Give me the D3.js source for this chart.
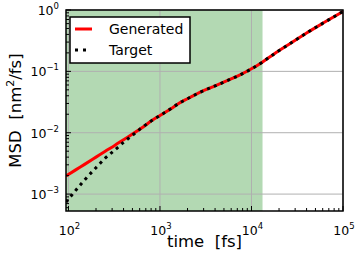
<!DOCTYPE html>
<html>
<head>
<meta charset="utf-8">
<script src="https://cdn.jsdelivr.net/npm/d3@7"></script>
<style>
  body { margin: 0; background: #fff; }
  text { font-family: "DejaVu Sans", sans-serif; fill: #000; }
</style>
</head>
<body>
<svg width="360" height="253"></svg>
<script>
'use strict';

// time in fs
const times = [94, 120, 150, 200, 250, 320, 400, 500, 630, 800, 1000, 1300, 1600, 2000,
  2800, 4000, 5500, 7500, 10000, 13000, 17500, 27000, 40000, 62000, 100000];
// MSD in nm^2/fs
const generated = [0.00197, 0.00248, 0.00305, 0.0040, 0.00494, 0.0062, 0.0077, 0.0095, 0.0119,
  0.0155, 0.0191, 0.0243, 0.0299, 0.0358, 0.0463, 0.0578, 0.0711, 0.0875, 0.110, 0.140,
  0.1905, 0.29, 0.422, 0.624, 0.944];
const target = [0.00074, 0.00115, 0.0017, 0.00269, 0.0038, 0.0052, 0.00695, 0.0091, 0.0120,
  0.0155, 0.0191, 0.0243, 0.0299, 0.0358, 0.0463, 0.0578, 0.0711, 0.0875, 0.110, 0.140,
  0.1905, 0.29, 0.422, 0.624, 0.944];
const shaded = [94, 13200];
const xTicks = [1e2, 1e3, 1e4, 1e5];
const yTicks = [1e-3, 1e-2, 1e-1, 1];
const seriesNames = ['Generated', 'Target'];

const svg = d3.select('svg');
const margin = { left: 66, right: 17, top: 10, bottom: 42 };
const width = +svg.attr('width');
const height = +svg.attr('height');

const x = d3.scaleLog().domain([94, 1e5]).range([margin.left, width - margin.right]);
const y = d3.scaleLog().domain([5.3e-4, 1]).range([height - margin.bottom, margin.top]);

const plot = svg.append('g');

svg.append('clipPath').attr('id', 'clip')
  .append('rect')
    .attr('x', x.range()[0])
    .attr('y', y.range()[1])
    .attr('width', x.range()[1] - x.range()[0])
    .attr('height', y.range()[0] - y.range()[1]);

// shaded span
plot.append('rect')
  .attr('x', x(shaded[0]))
  .attr('y', y.range()[1])
  .attr('width', x(shaded[1]) - x(shaded[0]))
  .attr('height', y.range()[0] - y.range()[1])
  .attr('fill', '#b3d9b3');

// grid
plot.selectAll('.gx').data(xTicks).enter().append('line')
  .attr('x1', d => x(d)).attr('x2', d => x(d))
  .attr('y1', y.range()[0]).attr('y2', y.range()[1])
  .attr('stroke', '#b0b0b0').attr('stroke-width', 1);
plot.selectAll('.gy').data(yTicks).enter().append('line')
  .attr('x1', x.range()[0]).attr('x2', x.range()[1])
  .attr('y1', d => y(d)).attr('y2', d => y(d))
  .attr('stroke', '#b0b0b0').attr('stroke-width', 1);

// lines
const line = d3.line()
  .x((d, i) => x(times[i]))
  .y(d => y(d))
  .curve(d3.curveMonotoneX);

const lines = plot.append('g').attr('clip-path', 'url(#clip)');
lines.append('path')
  .attr('d', line(generated))
  .attr('fill', 'none')
  .attr('stroke', '#ff0000')
  .attr('stroke-width', 3);
lines.append('path')
  .attr('d', line(target))
  .attr('fill', 'none')
  .attr('stroke', '#000')
  .attr('stroke-width', 3)
  .attr('stroke-dasharray', '3,4.3');

// minor ticks
function minors(scale) {
  const [a, b] = scale.domain();
  const out = [];
  for (let e = Math.floor(Math.log10(a)); e <= Math.ceil(Math.log10(b)); e++) {
    for (let m = 2; m <= 9; m++) {
      const v = m * Math.pow(10, e);
      if (v >= a && v <= b) out.push(v);
    }
  }
  return out;
}

const ticks = svg.append('g').attr('stroke', '#000').attr('stroke-width', 1);
const y0 = y.range()[0];
const x0 = x.range()[0];
ticks.selectAll('.xt').data(xTicks).enter().append('line')
  .attr('x1', d => x(d)).attr('x2', d => x(d))
  .attr('y1', y0).attr('y2', y0 - 5);
ticks.selectAll('.xm').data(minors(x)).enter().append('line')
  .attr('x1', d => x(d)).attr('x2', d => x(d))
  .attr('y1', y0).attr('y2', y0 - 3);
ticks.selectAll('.yt').data(yTicks).enter().append('line')
  .attr('y1', d => y(d)).attr('y2', d => y(d))
  .attr('x1', x0).attr('x2', x0 + 5);
ticks.selectAll('.ym').data(minors(y)).enter().append('line')
  .attr('y1', d => y(d)).attr('y2', d => y(d))
  .attr('x1', x0).attr('x2', x0 + 3);

// frame
svg.append('rect')
  .attr('x', x.range()[0])
  .attr('y', y.range()[1])
  .attr('width', x.range()[1] - x.range()[0])
  .attr('height', y.range()[0] - y.range()[1])
  .attr('fill', 'none')
  .attr('stroke', '#000')
  .attr('stroke-width', 1.5);

// tick labels
function powLabel(sel, v) {
  const e = Math.round(Math.log10(v));
  sel.append('tspan').text('10');
  sel.append('tspan')
    .attr('font-size', 8.5)
    .attr('dy', -6)
    .text(String(e).replace('-', '\u2212'));
}

svg.selectAll('.xl').data(xTicks).enter().append('text')
  .attr('x', d => x(d) + 1)
  .attr('y', 235)
  .attr('font-size', 12.5)
  .attr('text-anchor', 'middle')
  .each(function (d) { powLabel(d3.select(this), d); });

svg.selectAll('.yl').data(yTicks).enter().append('text')
  .attr('x', 59)
  .attr('y', d => y(d) + 5)
  .attr('font-size', 12.5)
  .attr('text-anchor', 'end')
  .each(function (d) { powLabel(d3.select(this), d); });

// axis labels
svg.append('text')
  .attr('x', (x.range()[0] + x.range()[1]) / 2)
  .attr('y', 247)
  .attr('font-size', 16.5)
  .attr('text-anchor', 'middle')
  .attr('xml:space', 'preserve')
  .text('time  [fs]');

const yl = svg.append('text')
  .attr('transform', `translate(21,${(y.range()[0] + y.range()[1]) / 2}) rotate(-90)`)
  .attr('font-size', 16.5)
  .attr('text-anchor', 'middle')
  .attr('xml:space', 'preserve');
yl.append('tspan').text('MSD  [nm');
yl.append('tspan').attr('font-size', 11).attr('dy', -7).text('2');
yl.append('tspan').attr('dy', 7).text('/fs]');

// legend
const legend = svg.append('g');
legend.append('rect')
  .attr('x', 70).attr('y', 17)
  .attr('width', 120).attr('height', 46)
  .attr('fill', '#fff')
  .attr('stroke', '#000')
  .attr('stroke-width', 1.5);
const rows = [
  { name: seriesNames[0], color: '#ff0000', dash: null, cy: 29 },
  { name: seriesNames[1], color: '#000', dash: '3,5', cy: 50 }
];
rows.forEach(r => {
  legend.append('line')
    .attr('x1', 75).attr('x2', r.dash ? 89 : 92)
    .attr('y1', r.cy).attr('y2', r.cy)
    .attr('stroke', r.color)
    .attr('stroke-width', 3)
    .attr('stroke-dasharray', r.dash);
  legend.append('text')
    .attr('x', 109)
    .attr('y', r.cy + 5)
    .attr('font-size', 14)
    .text(r.name);
});
</script>
</body>
</html>
